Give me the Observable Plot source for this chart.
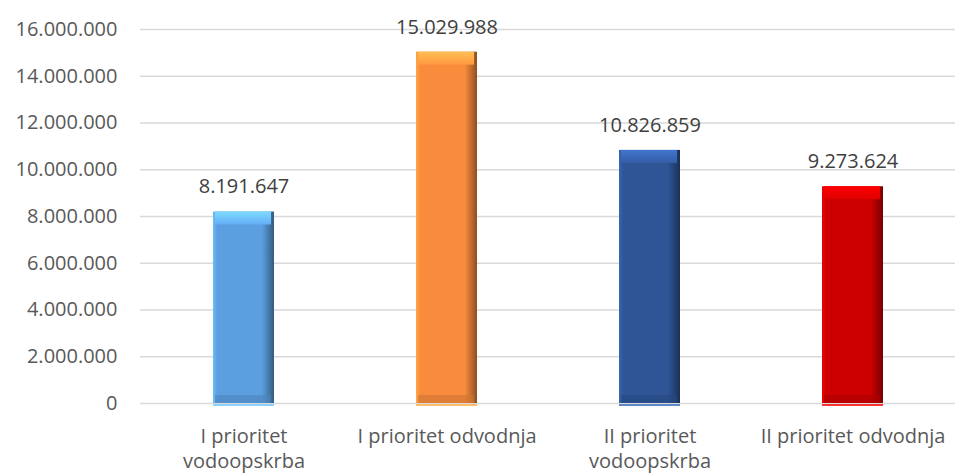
<!DOCTYPE html>
<html><head><meta charset="utf-8">
<script src="https://cdn.jsdelivr.net/npm/d3@7"></script>
<script src="https://cdn.jsdelivr.net/npm/@observablehq/plot@0.6"></script>
<style>body{margin:0;background:#fff}</style>
</head><body><div id="chart"></div>
<script>
const categories = ["I prioritet vodoopskrba", "I prioritet odvodnja", "II prioritet vodoopskrba", "II prioritet odvodnja"];
const axisLabels = ["I prioritet\nvodoopskrba", "I prioritet odvodnja", "II prioritet\nvodoopskrba", "II prioritet odvodnja"];
const values = [8191647, 15029988, 10826859, 9273624];
const yTicks = [0, 2000000, 4000000, 6000000, 8000000, 10000000, 12000000, 14000000, 16000000];
const baseColors = ["#5b9fe0", "#f88b3c", "#2f5597", "#cc0000"];

const locale = d3.formatLocale({decimal: ",", thousands: ".", grouping: [3], currency: ["", ""]});
const fmt = locale.format(",d");

const data = categories.map((c, i) => ({cat: c, value: values[i], i}));

const chart = Plot.plot({
  width: 960,
  height: 473,
  marginLeft: 140,
  marginRight: 5,
  marginTop: 29,
  marginBottom: 70,
  style: {fontFamily: "'Open Sans', sans-serif", fontSize: "20px", color: "#595959", background: "#fff"},
  x: {domain: categories, paddingInner: 0.7, paddingOuter: 0.35, label: null},
  y: {domain: [0, 16000000], label: null},
  color: {type: "identity"},
  marks: [
    Plot.gridY(yTicks, {stroke: "#d9d9d9", strokeOpacity: 1, strokeWidth: 1.5}),
    Plot.axisY(yTicks, {tickSize: 0, tickPadding: 23, tickFormat: fmt, fill: "#595959", fontSize: 20}),
    Plot.axisX({tickSize: 0, tickPadding: 22, tickFormat: d => axisLabels[categories.indexOf(d)], fill: "#595959", fontSize: 20, lineHeight: 1.25}),
    Plot.barY(data, {x: "cat", y: "value", fill: d => `url(#hg${d.i})`}),
    Plot.barY(data, {x: "cat", y1: "value", y2: "value", insetBottom: -13, insetLeft: 2, insetRight: 3, fill: d => `url(#tg${d.i})`}),
    Plot.barY(data, {x: "cat", y1: 0, y2: 0, insetTop: -8, insetLeft: 2, insetRight: 3, fill: d => d3.color(baseColors[d.i]).darker(0.5).formatHex(), fillOpacity: 0.6}),
    Plot.barY(data, {x: "cat", y1: 0, y2: 0, insetTop: 1, insetBottom: -3, fill: d => d3.color(baseColors[d.i]).brighter(0.6).formatHex(), fillOpacity: 0.8}),
    Plot.text(data, {x: "cat", y: "value", text: d => fmt(d.value), dy: -25, fill: "#404040", fontSize: 20})
  ]
});

const defs = d3.select(chart).insert("defs", ":first-child");
baseColors.forEach((c, i) => {
  const base = d3.color(c);
  const hg = defs.append("linearGradient").attr("id", `hg${i}`).attr("x1", 0).attr("x2", 1).attr("y1", 0).attr("y2", 0);
  [[0, base.brighter(0.5)], [0.07, base], [0.8, base], [0.92, base.darker(0.8)], [1, base.darker(1.6)]]
    .forEach(([o, col]) => hg.append("stop").attr("offset", o).attr("stop-color", col.formatHex()));
  const tg = defs.append("linearGradient").attr("id", `tg${i}`).attr("x1", 0).attr("x2", 0).attr("y1", 0).attr("y2", 1);
  [[0, base.brighter(0.9)], [1, base.brighter(0.25)]]
    .forEach(([o, col]) => tg.append("stop").attr("offset", o).attr("stop-color", col.formatHex()));
});

document.getElementById("chart").appendChild(chart);
</script>
</body></html>
